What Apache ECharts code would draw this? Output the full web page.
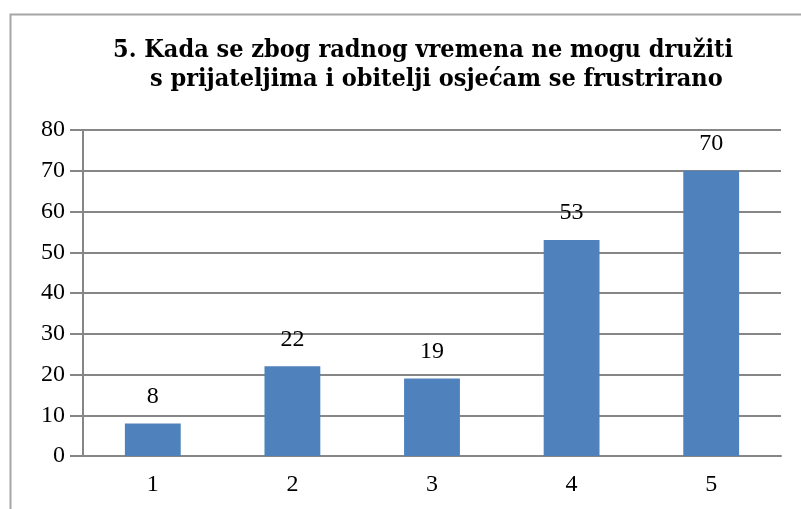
<!DOCTYPE html>
<html>
<head>
<meta charset="utf-8">
<script src="https://cdn.jsdelivr.net/npm/echarts@6/dist/echarts.min.js"></script>
<style>html,body{margin:0;padding:0;background:#fff;}#c{width:801px;height:509px;}</style>
</head>
<body>
<div id="c"></div>
<script>
const titleLine1 = "5. Kada se zbog radnog vremena ne mogu družiti";
const titleLine2 = "s prijateljima i obitelji osjećam se frustrirano";
const categories = ["1", "2", "3", "4", "5"];
const values = [8, 22, 19, 53, 70];
const yTicks = { min: 0, max: 80, interval: 10 };

const chart = echarts.init(document.getElementById('c'), null, {renderer: 'canvas'});
const serif = '"Liberation Serif", "DejaVu Serif", serif';
const titleFont = '"DejaVu Serif Condensed", "DejaVu Serif", serif';
chart.setOption({
  animation: false,
  backgroundColor: '#ffffff',
  graphic: [{
    type: 'rect', left: 8, top: 12,
    shape: { width: 820, height: 520 },
    style: { fill: 'none', stroke: '#a6a6a6', lineWidth: 2 }
  }],
  title: [
    { text: titleLine1, left: 108, top: 33,
      textStyle: { fontFamily: titleFont, fontWeight: 'bold', fontSize: 25, color: '#000' } },
    { text: titleLine2, left: 145, top: 62,
      textStyle: { fontFamily: titleFont, fontWeight: 'bold', fontSize: 25, color: '#000' } }
  ],
  grid: { left: 83, right: 20, top: 130, bottom: 53, containLabel: false },
  xAxis: {
    type: 'category', data: categories,
    axisLine: { lineStyle: { color: '#868686', width: 2 } },
    axisTick: { show: false },
    axisLabel: { fontFamily: serif, fontSize: 24, color: '#000', margin: 17 }
  },
  yAxis: {
    type: 'value', min: yTicks.min, max: yTicks.max, interval: yTicks.interval,
    axisLine: { show: true, lineStyle: { color: '#868686', width: 2 } },
    axisTick: { show: true, length: 13, lineStyle: { color: '#868686', width: 2 } },
    axisLabel: { fontFamily: serif, fontSize: 24, color: '#000', margin: 18 },
    splitLine: { lineStyle: { color: '#868686', width: 2 } }
  },
  series: [{
    type: 'bar', data: values, barCategoryGap: '60%',
    itemStyle: { color: '#4F81BD' },
    label: { show: true, position: 'top', distance: 15,
      fontFamily: serif, fontSize: 24, color: '#000' }
  }]
});
</script>
</body>
</html>
